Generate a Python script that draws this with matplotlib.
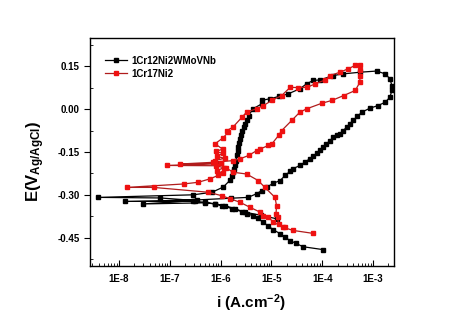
import numpy as np
import matplotlib
matplotlib.use('Agg')
from matplotlib import pyplot as plt, ticker

plt.rcParams['font.family'] = ['Liberation Sans', 'DejaVu Sans']
plt.rcParams['axes.unicode_minus'] = False
plt.rcParams['mathtext.fontset'] = 'custom'
plt.rcParams['mathtext.rm'] = 'Liberation Sans:bold'
plt.rcParams['mathtext.bf'] = 'Liberation Sans:bold'
plt.rcParams['mathtext.default'] = 'rm'

# 1Cr12Ni2WMoVNb : log10(i / A.cm-2) and E (V vs Ag/AgCl), in scan order
black_logi = [-3.99, -4.38, -4.52, -4.63, -4.73, -4.83, -4.97, -5.07, -5.17, -5.26,
              -5.36, -5.49, -5.58, -5.78, -5.98, -6.11, -6.31, -7.53, -6.50, -7.19,
              -8.41, -6.54, -6.17, -5.95, -5.81, -5.77, -5.75, -5.73, -5.72, -5.70,
              -5.68, -5.66, -5.65, -5.63, -5.62, -5.60, -5.58, -5.55, -5.52, -5.48,
              -5.45, -5.36, -5.19, -5.19, -5.03, -4.85, -4.67, -4.44, -4.31, -4.18,
              -4.04, -3.79, -3.59, -3.25, -2.93, -2.76, -2.67, -2.63, -2.63, -2.67,
              -2.76, -2.90, -3.06, -3.22, -3.31, -3.39, -3.46, -3.52, -3.59, -3.65,
              -3.72, -3.78, -3.85, -3.92, -3.98, -4.05, -4.11, -4.18, -4.24, -4.34,
              -4.44, -4.57, -4.63, -4.73, -4.83, -4.97, -5.08, -5.19, -5.29, -5.46,
              -5.80, -6.47, -7.88, -6.54, -6.31, -6.11, -5.91, -5.72, -5.52, -5.20,
              -4.90]
black_e = [-0.492, -0.482, -0.470, -0.461, -0.449, -0.436, -0.422, -0.408, -0.396, -0.383,
           -0.373, -0.366, -0.359, -0.348, -0.338, -0.332, -0.328, -0.332, -0.320, -0.311,
           -0.309, -0.300, -0.291, -0.273, -0.248, -0.235, -0.221, -0.209, -0.197, -0.180,
           -0.162, -0.148, -0.133, -0.118, -0.104, -0.090, -0.075, -0.063, -0.051, -0.036,
           -0.022, 0.002, 0.019, 0.031, 0.037, 0.045, 0.054, 0.072, 0.089, 0.101,
           0.103, 0.118, 0.124, 0.130, 0.134, 0.124, 0.107, 0.083, 0.066, 0.042,
           0.025, 0.013, 0.004, -0.010, -0.025, -0.039, -0.051, -0.063, -0.075, -0.086,
           -0.092, -0.098, -0.110, -0.122, -0.133, -0.144, -0.155, -0.164, -0.173, -0.185,
           -0.197, -0.208, -0.217, -0.232, -0.250, -0.260, -0.272, -0.285, -0.296, -0.309,
           -0.312, -0.318, -0.323, -0.323, -0.326, -0.332, -0.338, -0.349, -0.361, -0.372,
           -0.384]

# 1Cr17Ni2
red_logi = [-4.19, -4.57, -4.77, -4.96, -5.06, -5.16, -5.22, -5.42, -5.62, -5.81,
            -5.98, -6.24, -7.32, -7.85, -6.73, -6.44, -6.21, -6.05, -5.95, -6.08,
            -5.93, -6.10, -7.06, -6.00, -6.12, -5.92, -6.08, -5.95, -6.10, -5.96,
            -6.11, -5.95, -5.85, -5.88, -5.76, -5.58, -5.49, -5.29, -5.16, -4.99,
            -4.80, -4.63, -4.48, -4.30, -4.14, -3.94, -3.85, -3.65, -3.49, -3.35,
            -3.26, -3.26, -3.26, -3.26, -3.35, -3.58, -3.81, -4.01, -4.30, -4.44,
            -4.60, -4.80, -4.86, -4.99, -5.06, -5.22, -5.29, -5.45, -5.62, -5.75,
            -6.15, -6.80, -6.00, -5.90, -5.75, -5.49, -5.26, -5.13, -4.93, -4.90,
            -4.91, -4.88, -4.86, -4.73]
red_e = [-0.435, -0.425, -0.414, -0.396, -0.379, -0.373, -0.361, -0.344, -0.326, -0.314,
         -0.303, -0.291, -0.274, -0.274, -0.262, -0.256, -0.244, -0.232, -0.225, -0.215,
         -0.205, -0.198, -0.197, -0.190, -0.180, -0.172, -0.165, -0.155, -0.148, -0.140,
         -0.121, -0.100, -0.080, -0.075, -0.063, -0.028, -0.010, 0.002, 0.013, 0.031,
         0.048, 0.077, 0.076, 0.077, 0.089, 0.103, 0.118, 0.130, 0.142, 0.154,
         0.154, 0.136, 0.115, 0.095, 0.066, 0.048, 0.031, 0.021, 0.002, -0.010,
         -0.039, -0.075, -0.092, -0.121, -0.127, -0.139, -0.145, -0.162, -0.174, -0.180,
         -0.186, -0.192, -0.190, -0.205, -0.221, -0.227, -0.250, -0.274, -0.309, -0.338,
         -0.366, -0.379, -0.402, -0.414]

x_ticks = [1e-8, 1e-7, 1e-6, 1e-5, 1e-4, 1e-3]
x_ticklabels = ['1E-8', '1E-7', '1E-6', '1E-5', '1E-4', '1E-3']
y_ticks = [0.15, 0.00, -0.15, -0.30, -0.45]

fig = plt.figure(figsize=(4.64, 3.36), dpi=100)
ax = fig.add_axes([0.194, 0.208, 0.655, 0.679])

ax.plot(10 ** np.array(black_logi), black_e, color='black', lw=0.9,
        marker='s', ms=3.0, mfc='black', mec='black', label='1Cr12Ni2WMoVNb')
ax.plot(10 ** np.array(red_logi), red_e, color='#b01c1c', lw=0.9,
        marker='s', ms=3.0, mfc='#ee1111', mec='#ee1111', label='1Cr17Ni2')

ax.set_xscale('log')
ax.set_xlim(10 ** -8.57, 10 ** -2.59)
ax.set_ylim(-0.55, 0.25)

ax.xaxis.set_major_locator(ticker.FixedLocator(x_ticks))
ax.xaxis.set_major_formatter(ticker.FixedFormatter(x_ticklabels))
ax.xaxis.set_minor_locator(ticker.LogLocator(base=10, subs=np.arange(2, 10)))
ax.xaxis.set_minor_formatter(ticker.NullFormatter())
ax.yaxis.set_major_locator(ticker.FixedLocator(y_ticks))
ax.yaxis.set_major_formatter(ticker.FormatStrFormatter('%.2f'))
ax.yaxis.set_minor_locator(ticker.MultipleLocator(0.075))

ax.tick_params(axis='x', which='major', direction='in', length=4, width=0.8,
               labelsize=7, pad=6)
ax.tick_params(axis='x', which='minor', direction='in', length=2, width=0.6)
ax.tick_params(axis='y', which='major', direction='out', length=4, width=0.8,
               labelsize=7)
ax.tick_params(axis='y', which='minor', direction='in', length=2, width=0.6)
for lab in ax.get_xticklabels() + ax.get_yticklabels():
    lab.set_fontweight('bold')
for sp in ax.spines.values():
    sp.set_linewidth(1.0)

ax.set_xlabel('i (A.cm$^{-2}$)', fontsize=11, fontweight='bold')
ax.xaxis.set_label_coords(0.53, -0.115)
ax.set_ylabel('E(V$_{Ag/AgCl}$)', fontsize=12, fontweight='bold')
ax.yaxis.set_label_coords(-0.14, 0.46)

ax.legend(loc='upper left', bbox_to_anchor=(0.02, 0.96), frameon=False,
          handlelength=2.3, handletextpad=0.4, labelspacing=0.3,
          prop={'size': 7, 'weight': 'bold'})

fig.savefig('out.png', dpi=100)
